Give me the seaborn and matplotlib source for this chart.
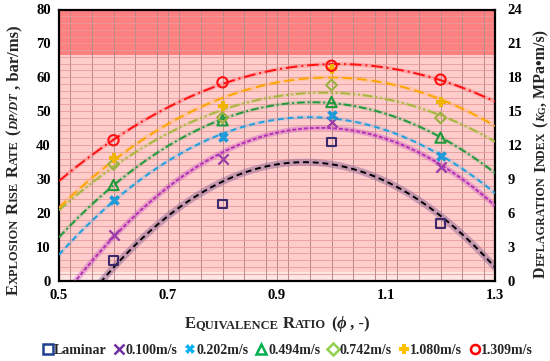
import numpy as np
import pandas as pd
import seaborn as sns
import matplotlib.pyplot as plt
from matplotlib.lines import Line2D
from matplotlib.ticker import MultipleLocator

# equivalence ratio of the measured points
phi = [0.6, 0.8, 1.0, 1.2]

# explosion rise rate, bar/ms, one list per turbulence level
laminar = [6.0, 22.6, 40.9, 16.9]
u_0100 = [13.4, 36.0, 46.8, 33.6]
u_0202 = [23.7, 42.4, 48.8, 36.7]
u_0494 = [28.2, 47.3, 52.7, 42.2]
u_0742 = [34.3, 48.1, 57.7, 48.0]
u_1080 = [36.2, 51.5, 62.3, 52.7]
u_1309 = [41.4, 58.5, 63.4, 59.3]

series_names = ['Laminar', '0.100m/s', '0.202m/s', '0.494m/s', '0.742m/s', '1.080m/s', '1.309m/s']
series_values = [laminar, u_0100, u_0202, u_0494, u_0742, u_1080, u_1309]

x_ticks = [0.5, 0.7, 0.9, 1.1, 1.3]
y_ticks = [0, 10, 20, 30, 40, 50, 60, 70, 80]
kg_ticks = [0, 3, 6, 9, 12, 15, 18, 21, 24]

rows = []
for name, vals in zip(series_names, series_values):
    for p, v in zip(phi, vals):
        rows.append({'phi': p, 'rate': v, 'series': name})
df = pd.DataFrame(rows)

# style per series: line colour, dashes, glow colour, marker, marker colour, legend colour
styles = {
    'Laminar':  dict(lc='#000000', dash=(3, 2), glow='#9a6f9a', gw=5, ga=0.55, m='s', mc='#3b2a6b', lg='#1f3f8f', hollow=True, s=40),
    '0.100m/s': dict(lc='#b52fb5', dash=(2, 1), glow='#c050c0', gw=4, ga=0.35, m='x', mc='#9a3aa8', lg='#7030a0', hollow=False, s=55),
    '0.202m/s': dict(lc='#1ea0e0', dash=(3, 2), glow='#1ea0e0', gw=3, ga=0.15, m='X', mc='#1e9ad8', lg='#00b0f0', hollow=False, s=60),
    '0.494m/s': dict(lc='#1f9a3a', dash=(4, 1.5, 1, 1.5), glow='#1f9a3a', gw=3, ga=0.15, m='^', mc='#1f9a3a', lg='#00b050', hollow=True, s=55),
    '0.742m/s': dict(lc='#a6b83a', dash=(5, 1.5, 1, 1.5, 1, 1.5), glow='#a6b83a', gw=3, ga=0.15, m='D', mc='#9ab040', lg='#92d050', hollow=True, s=30),
    '1.080m/s': dict(lc='#ffa500', dash=(5, 2.5), glow='#ffa500', gw=3.5, ga=0.15, m='P', mc='#f0b400', lg='#ffc000', hollow=False, s=60),
    '1.309m/s': dict(lc='#ff1010', dash=(6, 2, 1, 2), glow='#ff3030', gw=3, ga=0.2, m='o', mc='#ff1010', lg='#ff0000', hollow=True, s=55),
}

sns.set_theme(style='white')
plt.rcParams['font.family'] = ['Liberation Serif', 'DejaVu Serif']
plt.rcParams['font.weight'] = 'bold'

fig = plt.figure(figsize=(5.5, 3.61), dpi=100)
ax = fig.add_axes([59 / 550, 1 - 280.5 / 361, (495 - 59) / 550, (280.5 - 9.5) / 361])
ax.set_xlim(0.5, 1.3)
ax.set_ylim(0, 80)

# background classes
ax.axhspan(0, 66.7, color='#ffcccc', zorder=0, lw=0)
ax.axhspan(66.7, 80, color='#ff8080', zorder=0, lw=0)
ax.axhspan(0, 2.6, color='#ffe4e4', zorder=0, lw=0)

ax.xaxis.set_major_locator(MultipleLocator(0.2))
ax.xaxis.set_minor_locator(MultipleLocator(0.04))
ax.yaxis.set_major_locator(MultipleLocator(10))
ax.yaxis.set_minor_locator(MultipleLocator(2))
ax.set_axisbelow(True)
ax.grid(which='both', axis='x', color='#b58a8a', lw=0.7)
ax.grid(which='both', axis='y', color='#e89a9a', lw=0.6)

for name in series_names:
    st = styles[name]
    sub = df[df['series'] == name]
    # glow underneath
    sns.regplot(data=sub, x='phi', y='rate', order=2, ci=None, truncate=False, scatter=False,
                ax=ax, line_kws=dict(color=st['glow'], lw=st['gw'], alpha=st['ga'], zorder=2))
    sns.regplot(data=sub, x='phi', y='rate', order=2, ci=None, truncate=False, scatter=False,
                ax=ax, line_kws=dict(color=st['lc'], lw=1.4, dashes=st['dash'], zorder=3))
    if st['hollow']:
        sns.scatterplot(data=sub, x='phi', y='rate', marker=st['m'], s=st['s'], facecolors='none',
                        edgecolor=st['mc'], linewidth=1.5, ax=ax, zorder=4)
    else:
        sns.scatterplot(data=sub, x='phi', y='rate', marker=st['m'], s=st['s'], color=st['mc'],
                        linewidth=1.6 if st['m'] == 'x' else 0, ax=ax, zorder=4)

ax.set_xlim(0.5, 1.3)
ax.set_ylim(0, 80)
ax.set_xticks(x_ticks)
ax.set_yticks(y_ticks)
ax.set_xticklabels([f'{t:.1f}' for t in x_ticks], fontsize=10.5, fontweight='bold')
ax.set_yticklabels([str(t) for t in y_ticks], fontsize=10.5, fontweight='bold')
ax.tick_params(axis='both', which='both', length=0, pad=6, colors='black')
ax.set_xlabel('')
ax.set_ylabel('')
for sp in ax.spines.values():
    sp.set_color('black')
    sp.set_linewidth(1.6)

ax2 = ax.twinx()
ax2.set_ylim(0, 24)
ax2.set_yticks(kg_ticks)
ax2.set_yticklabels([str(t) for t in kg_ticks], fontsize=10.5, fontweight='bold')
ax2.tick_params(axis='y', length=0, pad=9, colors='black')
ax2.grid(False)
for sp in ax2.spines.values():
    sp.set_visible(False)

# small caps labels built piece by piece
BIG, SMALL = 12, 9


def caps_label(pieces, cx, cy, rotation=0):
    r = fig.canvas.get_renderer()
    items = []
    total = 0.0
    for s, size, style in pieces:
        if s is None:
            gap = size * fig.dpi / 72 * 0.28
            items.append((None, gap))
            total += gap
            continue
        t = fig.text(0, 0, s, fontsize=size, fontweight='bold', fontstyle=style,
                     rotation=rotation, rotation_mode='anchor', ha='left', va='baseline')
        ext = t.get_window_extent(r)
        length = ext.width if rotation == 0 else ext.height
        items.append((t, length))
        total += length
    W, H = fig.bbox.width, fig.bbox.height
    pos = (cx if rotation == 0 else H - cy) - total / 2
    for t, length in items:
        if t is not None:
            if rotation == 0:
                t.set_position((pos / W, 1 - cy / H))
            else:
                t.set_position((cx / W, pos / H))
        pos += length


caps_label([('E', BIG, 'normal'), ('QUIVALENCE', SMALL, 'normal'), (None, BIG, ''),
            ('R', BIG, 'normal'), ('ATIO', SMALL, 'normal'), (None, BIG, ''),
            ('(', BIG, 'normal'), ('ϕ', BIG, 'italic'), (' , -)', BIG, 'normal')],
           277, 328)
caps_label([('E', BIG, 'normal'), ('XPLOSION', SMALL, 'normal'), (None, BIG, ''),
            ('R', BIG, 'normal'), ('ISE', SMALL, 'normal'), (None, BIG, ''),
            ('R', BIG, 'normal'), ('ATE', SMALL, 'normal'), (None, BIG, ''),
            ('(', BIG, 'normal'), ('DP/DT', SMALL, 'italic'), (' , bar/ms)', BIG, 'normal')],
           18, 160, rotation=90)
caps_label([('D', 11.5, 'normal'), ('EFLAGRATION', 8.7, 'normal'), (None, 11.5, ''),
            ('I', 11.5, 'normal'), ('NDEX', 8.7, 'normal'), (None, 11.5, ''),
            ('(', 11.5, 'normal'), ('K', 8.7, 'italic'), ('G', 7, 'normal'), (', MPa•m/s)', 11.5, 'normal')],
           545, 154, rotation=90)

handles = []
for name in series_names:
    st = styles[name]
    if st['hollow']:
        h = Line2D([], [], linestyle='none', marker=st['m'], markersize=6.5, markerfacecolor='none',
                   markeredgecolor=st['lg'], markeredgewidth=1.8)
    else:
        h = Line2D([], [], linestyle='none', marker=st['m'], markersize=6.5, color=st['lg'],
                   markeredgewidth=1.8 if st['m'] == 'x' else 0)
    handles.append(h)
fig.legend(handles, series_names, loc='center', bbox_to_anchor=(288 / 550, 1 - 350 / 361), ncol=7,
           frameon=False, handlelength=0.7, handletextpad=0.12, columnspacing=0.55,
           borderaxespad=0, borderpad=0, prop=dict(size=10, weight='bold'))

fig.savefig('out.png', dpi=100)
